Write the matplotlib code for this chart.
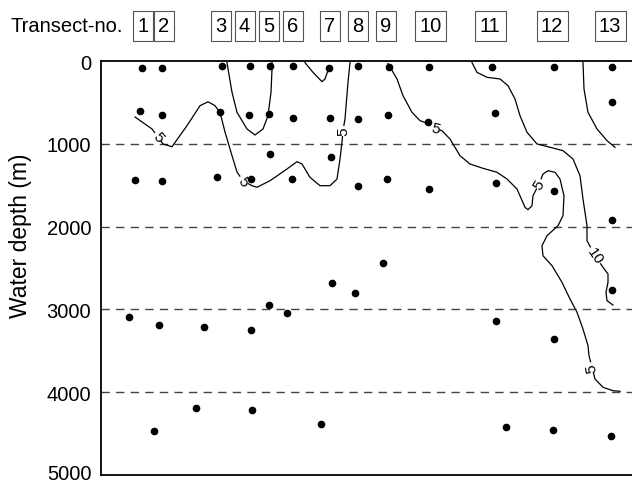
import matplotlib.pyplot as plt
from matplotlib.patches import Rectangle
from matplotlib.transforms import blended_transform_factory, ScaledTranslation

plt.rcParams['font.family'] = ['Liberation Sans', 'DejaVu Sans']

# transect positions (horizontal distance, arbitrary units) and names
transect_x = [143, 164, 221, 244.5, 268.5, 292.7, 330, 358, 386, 430.5, 490, 552, 610]
transect_no = ['1', '2', '3', '4', '5', '6', '7', '8', '9', '10', '11', '12', '13']

# sampling stations: x position, water depth (m)
stat_x = [142, 162, 222, 250, 270, 293, 329, 358, 389, 429, 492, 554, 612,
          140, 162, 220, 249, 269, 293, 330, 358, 388, 428, 495, 612,
          270, 331,
          135, 162, 217, 251, 292, 358, 387, 429, 496, 554, 612,
          612, 496, 554, 129, 159, 204, 251, 269, 287, 332, 355, 383,
          154, 196, 252, 321, 506, 553, 611]
stat_depth = [85, 85, 60, 60, 60, 60, 85, 60, 69, 69, 69, 72, 72,
              604, 652, 616, 652, 640, 685, 688, 700, 648, 733, 628, 491,
              1123, 1156,
              1434, 1449, 1401, 1425, 1425, 1506, 1425, 1546, 1473, 1570, 1916,
              2766, 3140, 3357, 3088, 3188, 3212, 3245, 2943, 3043, 2681, 2802, 2440,
              4468, 4191, 4215, 4384, 4420, 4456, 4529]

# isolines
iso_a_x = [135, 152, 158, 163, 172, 187, 200, 208, 215, 220, 225, 232, 237, 243, 252,
           257, 270, 287, 297, 302, 310, 320, 330, 337, 340, 342, 343, 345, 348, 350]
iso_a_d = [676, 821, 918, 1002, 1035, 781, 540, 492, 540, 620, 857, 1144, 1341, 1446, 1506,
           1525, 1446, 1304, 1216, 1244, 1405, 1506, 1506, 1425, 1184, 978, 842, 700, 257, 20]
iso_b_x = [227, 232, 237, 247, 255, 263, 268, 271, 272, 272]
iso_b_d = [20, 378, 620, 821, 894, 821, 661, 378, 97, 20]
iso_c_x = [305, 313, 322, 325, 329]
iso_c_d = [20, 137, 250, 217, 80]
iso_d_x = [388, 397, 403, 412, 420, 427, 435, 442, 450, 460, 470, 483, 497, 507, 517,
           525, 528, 532, 533, 539, 543, 548, 555, 560, 564, 563, 558, 547, 542, 543,
           552, 562, 570, 577, 583, 588, 589, 592, 595, 603, 613, 620]
iso_d_d = [30, 217, 419, 620, 721, 749, 813, 842, 942, 1144, 1244, 1296, 1344, 1425, 1546,
           1767, 1796, 1748, 1627, 1486, 1365, 1325, 1344, 1425, 1627, 1868, 1989, 2110, 2231, 2352,
           2472, 2673, 2874, 3035, 3237, 3438, 3559, 3699, 3840, 3941, 3982, 3989]
iso_e_x = [472, 477, 487, 500, 508, 515, 520, 527, 537, 550, 563, 573, 580, 583, 587,
           587, 595, 603, 608, 608, 606, 607, 613]
iso_e_d = [20, 137, 197, 217, 298, 459, 661, 861, 1002, 1042, 1083, 1184, 1385, 1667, 1989,
           2170, 2351, 2491, 2572, 2673, 2793, 2895, 2947]
iso_f_x = [583, 584, 588, 597, 607, 615]
iso_f_d = [20, 338, 620, 821, 962, 1042]

# isoline labels
lab_x = [158, 243, 343, 435, 539, 592, 595]
lab_d = [918, 1446, 842, 813, 1486, 3699, 2351]
lab_txt = ['5', '5', '5', '5', '5', '5', '10']
lab_rot = [-50, -55, 90, -15, 60, 100, -55]

depth_ticks = [0, 1000, 2000, 3000, 4000, 5000]

fig = plt.figure(figsize=(6.32, 4.85), dpi=100)
ax = fig.add_axes([101 / 632, 1 - 476 / 485, 531 / 632, 414 / 485])

for d in depth_ticks[1:-1]:
    ax.axhline(d, color='#444444', lw=1, dashes=(6, 4.5), zorder=1)

for xs, ds in [(iso_a_x, iso_a_d), (iso_b_x, iso_b_d), (iso_c_x, iso_c_d),
               (iso_d_x, iso_d_d), (iso_e_x, iso_e_d), (iso_f_x, iso_f_d)]:
    ax.plot(xs, ds, color='black', lw=0.9, zorder=2)

for x, d, t, r in zip(lab_x, lab_d, lab_txt, lab_rot):
    ax.text(x, d, t, rotation=r, fontsize=11, ha='center', va='center', zorder=3,
            bbox=dict(boxstyle='square,pad=0.05', fc='white', ec='none'))

ax.plot(stat_x, stat_depth, 'o', color='black', ms=4.5, zorder=4)

ax.set_xlim(101, 632)
ax.set_ylim(5000, 0)
ax.set_xticks([])
ax.set_yticks(depth_ticks)
ax.tick_params(axis='y', length=0, pad=7, labelsize=14.5)
# lift the bottom label a little so it stays inside the figure
last = ax.get_yticklabels()[-1]
last.set_transform(last.get_transform() + ScaledTranslation(0, 4 / 100, fig.dpi_scale_trans))
ax.spines['right'].set_visible(False)
for s in ['left', 'top', 'bottom']:
    ax.spines[s].set_linewidth(1.3)
ax.set_ylabel('Water depth (m)', fontsize=16.5)
ax.yaxis.set_label_coords(-0.13, 0.58)

trans = blended_transform_factory(ax.transData, fig.transFigure)
fig.text(123 / 632, 0.945, 'Transect-no.', fontsize=14.5, ha='right', va='center')
box_bottom = 1 - 42 / 485
box_h = 30 / 485
for x, n in zip(transect_x, transect_no):
    w = 20 if len(n) == 1 else 31
    ax.add_patch(Rectangle((x - w / 2, box_bottom), w, box_h, transform=trans,
                           clip_on=False, fc='white', ec='#555555', lw=0.8))
    ax.text(x, box_bottom + box_h / 2, n, transform=trans, fontsize=14.5,
            ha='center', va='center')

fig.savefig('out.png', dpi=100)
